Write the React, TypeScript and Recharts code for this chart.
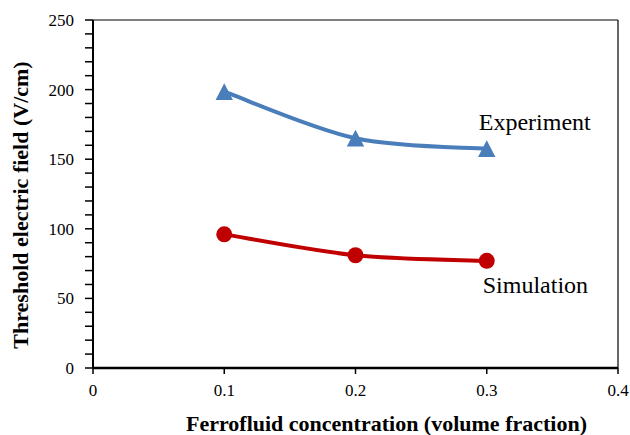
import React from "react";
import { LineChart, Line, XAxis, YAxis, ReferenceLine, LabelList, Label } from "recharts";

const xValues = [0.1, 0.2, 0.3];
const experiment = [198.5, 165, 157.5];
const simulation = [96, 81, 77];
const xTicks = [0, 0.1, 0.2, 0.3, 0.4];
const yTicks = [0, 10, 20, 30, 40, 50, 60, 70, 80, 90, 100, 110, 120, 130, 140, 150, 160, 170, 180, 190, 200, 210, 220, 230, 240, 250];
const yLabelTicks = [0, 50, 100, 150, 200, 250];
const seriesNames = ["Experiment", "Simulation"];
const xTitle = "Ferrofluid concentration (volume fraction)";
const yTitle = "Threshold electric field (V/cm)";

const data = xValues.map((x, i) => ({ x, experiment: experiment[i], simulation: simulation[i] }));

const FONT = "'Liberation Serif', 'Times New Roman', serif";
const BLUE = "#4A7EBB";
const RED = "#C00000";

// Spreadsheet-style smoothed line (Catmull-Rom as cubic Bezier segments)
const smoothCurve: any = (context: any) => {
  let pts: number[][] = [];
  return {
    areaStart() {},
    areaEnd() {},
    lineStart() {
      pts = [];
    },
    point(x: number, y: number) {
      pts.push([+x, +y]);
    },
    lineEnd() {
      if (!pts.length) return;
      context.moveTo(pts[0][0], pts[0][1]);
      for (let i = 0; i < pts.length - 1; i++) {
        const p0 = pts[i - 1] || pts[i];
        const p1 = pts[i];
        const p2 = pts[i + 1];
        const p3 = pts[i + 2] || pts[i + 1];
        const c1x = p1[0] + (p2[0] - p0[0]) / 6;
        const c1y = p1[1] + (p2[1] - p0[1]) / 6;
        const c2x = p2[0] - (p3[0] - p1[0]) / 6;
        const c2y = p2[1] - (p3[1] - p1[1]) / 6;
        context.bezierCurveTo(c1x, c1y, c2x, c2y, p2[0], p2[1]);
      }
    },
  };
};

const Triangle = (props: any) => {
  const { cx, cy, index } = props;
  if (cx == null || cy == null) return <g key={index} />;
  return (
    <polygon
      key={index}
      points={`${cx},${cy - 8.5} ${cx - 8.7},${cy + 8.2} ${cx + 8.7},${cy + 8.2}`}
      fill={BLUE}
      stroke="none"
    />
  );
};

export default function App() {
  return (
    <div style={{ position: "absolute", left: 0, top: 0 }}>
      <LineChart width={630} height={435} data={data} margin={{ top: 20, right: 12, bottom: 0, left: 0 }}>
        <XAxis
          dataKey="x"
          type="number"
          domain={[0, 0.4]}
          ticks={xTicks}
          interval={0}
          height={67}
          tickSize={6}
          tickMargin={10}
          axisLine={{ stroke: "#000", strokeWidth: 2.5 }}
          tickLine={{ stroke: "#000", strokeWidth: 1.5 }}
          tick={{ fill: "#000", fontSize: 17, fontFamily: FONT }}
          tickFormatter={(v: number) => String(v)}
        >
          <Label
            content={(p: any) => {
              const vb = p.viewBox;
              return (
                <text
                  x={vb.x + vb.width / 2 + 31}
                  y={vb.y + 63}
                  textAnchor="middle"
                  fontFamily={FONT}
                  fontWeight="bold"
                  fontSize={22}
                  fill="#000"
                >
                  {xTitle}
                </text>
              );
            }}
          />
        </XAxis>
        <YAxis
          type="number"
          domain={[0, 250]}
          ticks={yTicks}
          interval={0}
          width={93}
          tickSize={8}
          tickMargin={11}
          axisLine={{ stroke: "#000", strokeWidth: 2 }}
          tickLine={{ stroke: "#000", strokeWidth: 1.5 }}
          tick={{ fill: "#000", fontSize: 17, fontFamily: FONT }}
          tickFormatter={(v: number) => (yLabelTicks.includes(v) ? String(v) : "")}
        >
          <Label
            content={(p: any) => {
              const vb = p.viewBox;
              const cx = vb.x + 28;
              const cy = vb.y + vb.height / 2 + 11;
              return (
                <text
                  x={cx}
                  y={cy}
                  transform={`rotate(-90 ${cx} ${cy})`}
                  textAnchor="middle"
                  fontFamily={FONT}
                  fontWeight="bold"
                  fontSize={22}
                  fill="#000"
                >
                  {yTitle}
                </text>
              );
            }}
          />
        </YAxis>
        <ReferenceLine y={250} stroke="#000" strokeWidth={1.2} />
        <ReferenceLine x={0.4} stroke="#000" strokeWidth={1.2} />
        <Line
          type={smoothCurve}
          dataKey="experiment"
          stroke={BLUE}
          strokeWidth={4}
          dot={<Triangle />}
          activeDot={false}
          isAnimationActive={false}
        >
          <LabelList
            dataKey="experiment"
            content={(p: any) =>
              p.index === xValues.length - 1 ? (
                <text x={p.x - 8} y={p.y - 19} fontFamily={FONT} fontSize={24} fill="#000">
                  {seriesNames[0]}
                </text>
              ) : null
            }
          />
        </Line>
        <Line
          type={smoothCurve}
          dataKey="simulation"
          stroke={RED}
          strokeWidth={4}
          dot={{ r: 8, fill: RED, stroke: RED, strokeWidth: 0 }}
          activeDot={false}
          isAnimationActive={false}
        >
          <LabelList
            dataKey="simulation"
            content={(p: any) =>
              p.index === xValues.length - 1 ? (
                <text x={p.x - 4} y={p.y + 32} fontFamily={FONT} fontSize={24} fill="#000">
                  {seriesNames[1]}
                </text>
              ) : null
            }
          />
        </Line>
      </LineChart>
    </div>
  );
}
